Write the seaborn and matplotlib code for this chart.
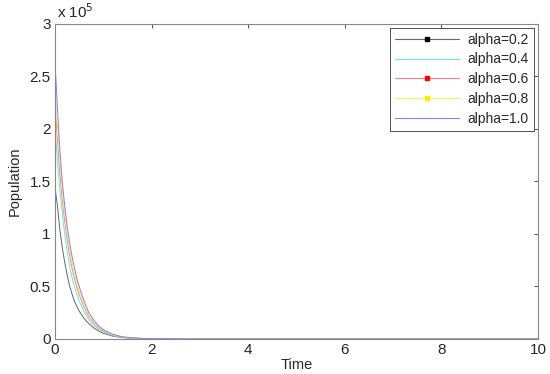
import pandas as pd
import numpy as np
import seaborn as sns
import matplotlib.pyplot as plt
from matplotlib.lines import Line2D
from matplotlib.ticker import FuncFormatter

sns.set_style('white')
plt.rcParams['font.family'] = ['Liberation Sans', 'DejaVu Sans']

# time points
time = [0, 0.01, 0.05, 0.1, 0.15, 0.2, 0.25, 0.3, 0.35, 0.4, 0.45, 0.5, 0.6, 0.7, 0.8, 0.9, 1.0,
        1.2, 1.4, 1.6, 1.8, 2.0, 3, 4, 5, 6, 7, 8, 9, 10]

# population in units of 1e5
pop_02 = [0.37, 1.40, 1.27, 1.04, 0.87, 0.73, 0.61, 0.51, 0.43, 0.36, 0.31, 0.265, 0.195, 0.145,
          0.105, 0.075, 0.053, 0.025, 0.012, 0.006, 0.003, 0.001, 0, 0, 0, 0, 0, 0, 0, 0]
pop_04 = [0.37, 1.95, 1.70, 1.42, 1.20, 1.00, 0.84, 0.70, 0.59, 0.50, 0.425, 0.36, 0.26, 0.18,
          0.13, 0.09, 0.065, 0.030, 0.014, 0.007, 0.003, 0.0015, 0, 0, 0, 0, 0, 0, 0, 0]
pop_06 = [0.37, 2.15, 1.90, 1.58, 1.33, 1.12, 0.95, 0.80, 0.68, 0.58, 0.49, 0.42, 0.30, 0.21,
          0.15, 0.105, 0.075, 0.036, 0.017, 0.008, 0.004, 0.002, 0, 0, 0, 0, 0, 0, 0, 0]
pop_08 = [0.37, 2.30, 2.05, 1.70, 1.42, 1.20, 1.02, 0.86, 0.73, 0.63, 0.54, 0.46, 0.33, 0.23,
          0.165, 0.115, 0.082, 0.039, 0.018, 0.0085, 0.004, 0.002, 0, 0, 0, 0, 0, 0, 0, 0]
pop_10 = [0.37, 2.55, 2.20, 1.80, 1.50, 1.27, 1.08, 0.92, 0.79, 0.68, 0.58, 0.50, 0.36, 0.25,
          0.18, 0.125, 0.088, 0.042, 0.019, 0.009, 0.004, 0.002, 0, 0, 0, 0, 0, 0, 0, 0]

labels = ['alpha=0.2', 'alpha=0.4', 'alpha=0.6', 'alpha=0.8', 'alpha=1.0']
line_colors = ['#666666', '#66e8e8', '#ff8080', '#ffee55', '#8080ff']
mark_colors = ['#000000', '#00cccc', '#ff0000', '#ffee00', '#0000ff']
markers = ['s', None, 's', 's', None]
series = [pop_02, pop_04, pop_06, pop_08, pop_10]

rows = []
for lab, vals in zip(labels, series):
    for t, v in zip(time, vals):
        rows.append({'Time': t, 'Population': v * 1e5, 'alpha': lab})
df = pd.DataFrame(rows)

fig = plt.figure(figsize=(5.5, 3.74), dpi=100)
ax = fig.add_axes([0.1, 0.094, 0.878, 0.843])

sns.lineplot(data=df, x='Time', y='Population', hue='alpha',
             palette=dict(zip(labels, line_colors)), estimator=None, sort=False,
             linewidth=0.7, legend=False, ax=ax)

ax.set_xlim(0, 10)
ax.set_ylim(0, 3e5)
ax.set_xticks([0, 2, 4, 6, 8, 10])
ax.set_yticks(np.arange(0, 3.01e5, 0.5e5))
ax.yaxis.set_major_formatter(FuncFormatter(lambda v, p: '%g' % (v / 1e5)))
ax.tick_params(direction='in', length=3, width=0.6, top=True, right=True,
               labelsize=11, pad=3, color='#333333')
for s in ax.spines.values():
    s.set_color('#888888')
    s.set_linewidth(0.8)
ax.set_xlabel('Time', fontsize=10.5, labelpad=1)
ax.set_ylabel('Population', fontsize=10.5, labelpad=6)
ax.text(0.005, 1.008, 'x 10$^{5}$', transform=ax.transAxes, fontsize=11,
        ha='left', va='bottom')

handles = [Line2D([], [], color=c, lw=0.8, marker=m, markersize=2.5,
                  markerfacecolor=mc, markeredgecolor=mc)
           for c, mc, m in zip(line_colors, mark_colors, markers)]
ax.legend(handles, labels, loc='upper right', fontsize=10, handlelength=4.6,
          fancybox=False, edgecolor='#333333', framealpha=1,
          borderaxespad=0.3, labelspacing=0.42, handletextpad=0.6,
          borderpad=0.35).get_frame().set_linewidth(0.6)

plt.savefig('out.png', dpi=100)
